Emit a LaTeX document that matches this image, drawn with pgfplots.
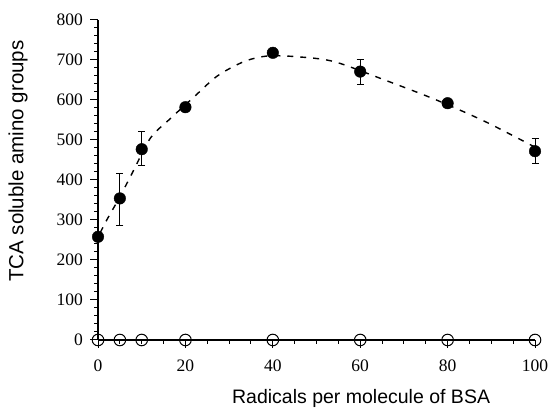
\documentclass[border=0pt]{standalone}
\usepackage{fontspec}
\setmainfont{Liberation Sans}
\newfontfamily\tickfont{Liberation Serif}
\usepackage{pgfplots}
\pgfplotsset{compat=1.18}

\pgfplotstableread{
x y
0 258
20 582
40 718
80 592
}\filled

\pgfplotstableread{
x y ep em
5 354 61 68
10 477 43 40
60 671 31 32
100 472 31 30
}\errs

\pgfplotstableread{
x y
0 0
5 0
10 0
20 0
40 0
60 0
80 0
100 0
}\open

\begin{document}
\begin{tikzpicture}
\begin{axis}[
  scale only axis,
  width=437bp, height=320bp,
  xmin=0, xmax=100, ymin=0, ymax=800,
  axis lines=left,
  axis line style={-, line width=1.2bp},
  clip=false,
  xtick={0,20,...,100}, minor x tick num=3,
  ytick={0,100,...,800}, minor y tick num=4,
  tick align=outside,
  major tick length=8bp, minor tick length=4bp,
  every tick/.style={black, line width=1bp},
  /pgf/number format/assume math mode=true,
  ticklabel style={font=\tickfont\fontsize{17.5bp}{20bp}\selectfont, inner sep=0pt},
  xticklabel shift=12bp,
  yticklabel shift=7bp,
  xlabel={Radicals per molecule of BSA},
  ylabel={TCA soluble amino groups},
  xlabel style={font=\fontsize{19.5bp}{23bp}\selectfont, at={(axis description cs:0.602,-0.197)}, anchor=base, inner sep=0pt},
  ylabel style={font=\fontsize{20.5bp}{24bp}\selectfont, at={(axis description cs:-0.183,0.559)}, anchor=center, rotate=0, inner sep=0pt},
]
\path (axis description cs:-0.2243,-0.20625) rectangle (axis description cs:1.0343,1.0625);

\addplot[black, line width=1.4bp, dash pattern=on 6bp off 7bp, smooth] coordinates {
(0.5,268) (2,300) (5,358) (8,421) (12,505) (16.6,554) (22,608) (27.3,660)
(33.4,696) (38.8,710) (45.7,708) (54,696) (65.6,650) (77,602) (88.6,546) (100,482)
};

\addplot[black, only marks, mark=*, mark size=5.8bp,
  error bars/.cd, y dir=both, y explicit,
  error mark=-, error mark options={rotate=90, black, solid, line width=1bp, mark size=3.5bp},
  error bar style={line width=0.9bp, black, solid}]
  table[x=x, y=y, y error plus=ep, y error minus=em] {\errs};

\addplot[only marks, mark=*, mark size=5.8bp, black] table[x=x,y=y] {\filled};

\addplot[only marks, mark=o, mark size=5.8bp, black, line width=1bp, mark options={fill=white}] table[x=x,y=y] {\open};
\end{axis}
\end{tikzpicture}
\end{document}
